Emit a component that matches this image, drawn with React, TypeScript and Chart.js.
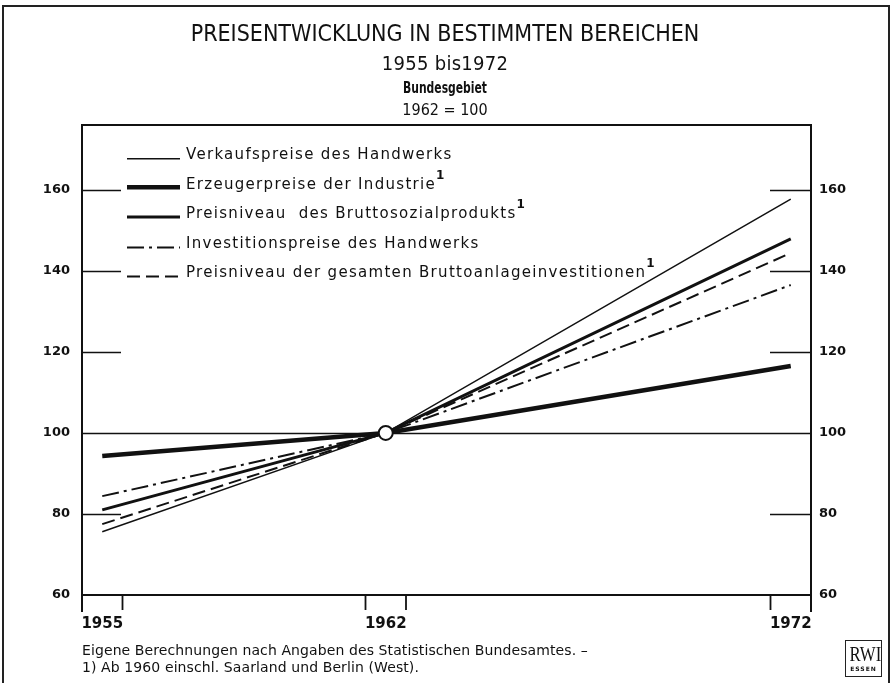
import React, { useEffect, useRef } from "react";
import { Chart, registerables } from "chart.js";

Chart.register(...registerables);

// ---- data ----
const years = [1955, 1962, 1972];
const verkaufspreiseHandwerk = [75.6, 100, 157.7];
const erzeugerpreiseIndustrie = [94.3, 100, 116.5];
const preisniveauBSP = [81.0, 100, 147.9];
const investitionspreiseHandwerk = [84.4, 100, 136.5];
const preisniveauBruttoanlage = [77.5, 100, 144.4];
const baseYear = [1962];
const baseValue = [100];

const xTicks = [1955, 1962, 1972];
const yTicks = [60, 80, 100, 120, 140, 160];

const seriesLabels = [
  "Verkaufspreise des Handwerks",
  "Erzeugerpreise der Industrie",
  "Preisniveau  des Bruttosozialprodukts",
  "Investitionspreise des Handwerks",
  "Preisniveau der gesamten Bruttoanlageinvestitionen",
];
const footnoteFlags = [false, true, true, false, true];

const INK = "#111";

const toPoints = (vals: number[]) => years.map((x, i) => ({ x, y: vals[i] }));

const frameAndLegend = {
  id: "frameAndLegend",
  beforeDatasetsDraw(chart: any) {
    const { ctx, chartArea: a, scales } = chart;
    const y = scales.y;
    const x = scales.x;
    ctx.save();
    ctx.strokeStyle = INK;
    ctx.lineWidth = 2;
    ctx.lineCap = "butt";
    // box
    ctx.beginPath();
    ctx.moveTo(a.left, a.bottom + 17);
    ctx.lineTo(a.left, a.top);
    ctx.lineTo(a.right, a.top);
    ctx.lineTo(a.right, a.bottom + 17);
    ctx.moveTo(a.left, a.bottom);
    ctx.lineTo(a.right, a.bottom);
    ctx.stroke();
    // y tick marks
    ctx.lineWidth = 1.5;
    yTicks.forEach((v) => {
      if (v === 60) return;
      const py = Math.round(y.getPixelForValue(v)) + 0.5;
      ctx.beginPath();
      if (v === 100) {
        ctx.moveTo(a.left, py);
        ctx.lineTo(a.right, py);
      } else {
        ctx.moveTo(a.left, py);
        ctx.lineTo(a.left + 39, py);
        ctx.moveTo(a.right - 41, py);
        ctx.lineTo(a.right, py);
      }
      ctx.stroke();
    });
    // x tick marks at the edges of each labelled year slot
    ctx.lineWidth = 1.8;
    xTicks.forEach((yr, i) => {
      const edges: number[] = [];
      if (i > 0) edges.push(yr - 0.5);
      if (i < xTicks.length - 1) edges.push(yr + 0.5);
      edges.forEach((e) => {
        const px = x.getPixelForValue(e);
        ctx.beginPath();
        ctx.moveTo(px, a.bottom);
        ctx.lineTo(px, a.bottom + 15);
        ctx.stroke();
      });
    });
    ctx.restore();
  },
  afterDraw(chart: any) {
    const { ctx } = chart;
    const rows = [159, 189, 218, 248, 277];
    ctx.save();
    seriesLabels.forEach((label, i) => {
      const ds = chart.data.datasets[i];
      const ly = rows[i];
      ctx.strokeStyle = INK;
      ctx.lineWidth = ds.borderWidth;
      ctx.setLineDash(ds.borderDash || []);
      ctx.beginPath();
      ctx.moveTo(127, ly - ds.borderWidth / 2 + 0.5);
      ctx.lineTo(180, ly - ds.borderWidth / 2 + 0.5);
      ctx.stroke();
      ctx.setLineDash([]);
      ctx.fillStyle = INK;
      ctx.font = "15px 'DejaVu Sans'";
      (ctx as any).letterSpacing = "1.3px";
      ctx.textBaseline = "alphabetic";
      ctx.textAlign = "left";
      ctx.fillText(label, 186, ly);
      const w = ctx.measureText(label).width;
      if (footnoteFlags[i]) {
        ctx.font = "bold 12px 'DejaVu Sans'";
        (ctx as any).letterSpacing = "0px";
        ctx.fillText("1", 186 + w, ly - 10);
      }
      (ctx as any).letterSpacing = "0px";
    });
    ctx.restore();
  },
};

export default function App() {
  const canvasRef = useRef<HTMLCanvasElement | null>(null);

  useEffect(() => {
    const canvas = canvasRef.current;
    if (!canvas) return;
    const base = {
      type: "line" as const,
      borderColor: INK,
      pointRadius: 0,
      fill: false,
      tension: 0,
      borderCapStyle: "butt" as const,
    };
    const chart = new Chart(canvas, {
      type: "line",
      data: {
        datasets: [
          { ...base, label: seriesLabels[0], data: toPoints(verkaufspreiseHandwerk), borderWidth: 1.5 },
          { ...base, label: seriesLabels[1], data: toPoints(erzeugerpreiseIndustrie), borderWidth: 4.5 },
          { ...base, label: seriesLabels[2], data: toPoints(preisniveauBSP), borderWidth: 3 },
          { ...base, label: seriesLabels[3], data: toPoints(investitionspreiseHandwerk), borderWidth: 2, borderDash: [17, 5, 3, 5] },
          { ...base, label: seriesLabels[4], data: toPoints(preisniveauBruttoanlage), borderWidth: 2, borderDash: [13, 6] },
          {
            type: "line",
            label: "1962 = 100",
            data: baseYear.map((x, i) => ({ x, y: baseValue[i] })),
            showLine: false,
            pointRadius: 7,
            pointBackgroundColor: "#fff",
            pointBorderColor: INK,
            pointBorderWidth: 2,
            order: -1,
          } as any,
        ],
      },
      options: {
        responsive: false,
        animation: false,
        events: [],
        layout: { padding: { top: 125, left: 0, right: 0, bottom: 0 } },
        plugins: { legend: { display: false }, tooltip: { enabled: false }, title: { display: false } },
        scales: {
          x: {
            type: "linear",
            min: 1954.5,
            max: 1972.5,
            grid: { display: false, drawTicks: false },
            border: { display: false },
            afterBuildTicks: (s: any) => {
              s.ticks = xTicks.map((v) => ({ value: v }));
            },
            afterFit: (s: any) => {
              s.height = 88;
            },
            ticks: {
              padding: 20,
              color: INK,
              maxRotation: 0,
              font: { family: "'DejaVu Sans'", size: 15, weight: "bold" },
              callback: (v: any) => String(v),
            },
          },
          y: {
            type: "linear",
            position: "left",
            min: 60,
            max: 176,
            grid: { display: false, drawTicks: false },
            border: { display: false },
            afterBuildTicks: (s: any) => {
              s.ticks = yTicks.map((v) => ({ value: v }));
            },
            afterFit: (s: any) => {
              s.width = 82;
            },
            ticks: {
              padding: 12,
              color: INK,
              font: { family: "'DejaVu Sans'", size: 13, weight: "bold" },
              callback: (v: any) => String(v),
            },
          },
          y2: {
            type: "linear",
            position: "right",
            min: 60,
            max: 176,
            grid: { display: false, drawTicks: false },
            border: { display: false },
            afterBuildTicks: (s: any) => {
              s.ticks = yTicks.map((v) => ({ value: v }));
            },
            afterFit: (s: any) => {
              s.width = 79;
            },
            ticks: {
              padding: 8,
              color: INK,
              font: { family: "'DejaVu Sans'", size: 13, weight: "bold" },
              callback: (v: any) => String(v),
            },
          },
        },
      },
      plugins: [frameAndLegend],
    } as any);
    return () => chart.destroy();
  }, []);

  const center: React.CSSProperties = {
    position: "absolute",
    left: 0,
    width: 890,
    textAlign: "center",
    color: INK,
    whiteSpace: "pre",
    transformOrigin: "445px 50%",
  };
  const narrow = "'Liberation Sans Narrow', 'DejaVu Sans Condensed', 'Liberation Sans', sans-serif";

  return (
    <div
      style={{
        position: "absolute",
        left: 0,
        top: 0,
        width: 890,
        height: 683,
        overflow: "hidden",
        background: "#fff",
      }}
    >
      <canvas ref={canvasRef} width={890} height={683} style={{ position: "absolute", left: 0, top: 0, width: 890, height: 683 }} />
      <div
        style={{
          position: "absolute",
          left: 2,
          top: 5,
          width: 884,
          height: 720,
          border: "2px solid #222",
          pointerEvents: "none",
        }}
      />
      <div style={{ ...center, top: 18, fontFamily: narrow, fontSize: 23, lineHeight: "30px" }}>
        PREISENTWICKLUNG IN BESTIMMTEN BEREICHEN
      </div>
      <div style={{ ...center, top: 51, fontFamily: narrow, fontSize: 20, lineHeight: "24px", letterSpacing: 0.3 }}>
        1955 bis1972
      </div>
      <div
        style={{
          ...center,
          top: 79,
          fontFamily: narrow,
          fontSize: 15,
          fontWeight: "bold",
          lineHeight: "18px",
          transform: "scaleX(0.8)",
        }}
      >
        Bundesgebiet
      </div>
      <div style={{ ...center, top: 101, fontFamily: narrow, fontSize: 16, lineHeight: "18px" }}>1962 = 100</div>
      <div
        style={{
          position: "absolute",
          left: 82,
          top: 642,
          fontFamily: "'DejaVu Sans', sans-serif",
          fontSize: 14,
          lineHeight: "17px",
          letterSpacing: 0.1,
          color: INK,
          whiteSpace: "pre",
        }}
      >
        {"Eigene Berechnungen nach Angaben des Statistischen Bundesamtes. –\n1) Ab 1960 einschl. Saarland und Berlin (West)."}
      </div>
      <div
        style={{
          position: "absolute",
          left: 845,
          top: 640,
          width: 35,
          height: 35,
          border: "1.5px solid #222",
          textAlign: "center",
          color: INK,
        }}
      >
        <div
          style={{
            fontFamily: "'Liberation Serif', serif",
            fontSize: 21,
            lineHeight: "22px",
            marginTop: 2,
            transform: "scaleX(0.8)",
          }}
        >
          RWI
        </div>
        <div style={{ fontFamily: "'DejaVu Sans', sans-serif", fontWeight: "bold", fontSize: 6, lineHeight: "8px", letterSpacing: 1 }}>
          ESSEN
        </div>
      </div>
    </div>
  );
}
